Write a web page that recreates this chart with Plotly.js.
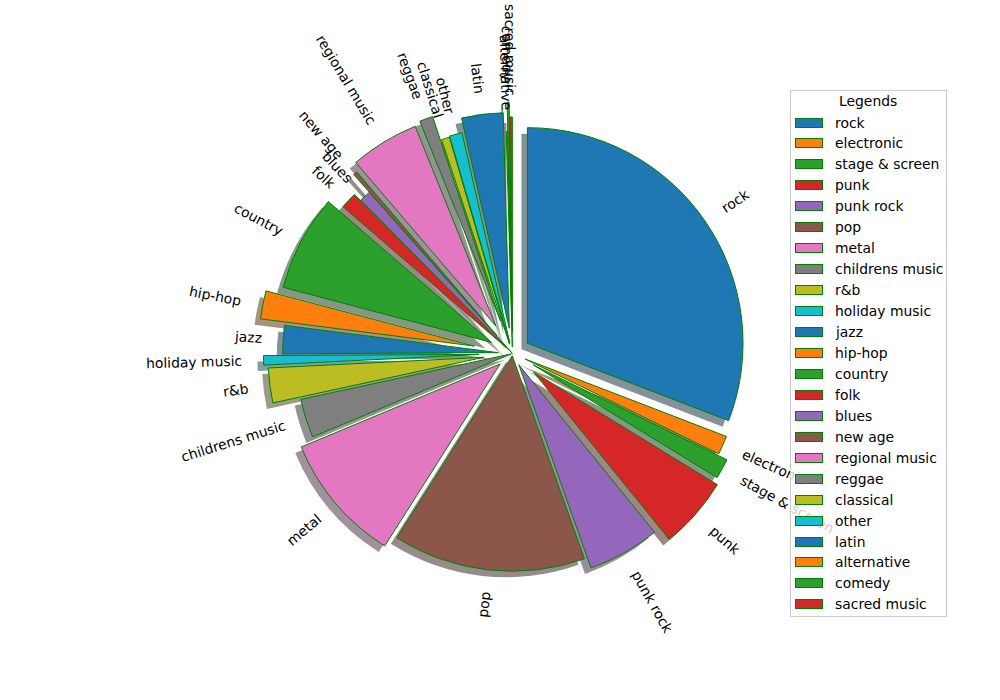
<!DOCTYPE html>
<html><head><meta charset="utf-8">
<script src="https://cdn.plot.ly/plotly-3.0.1.min.js"></script>
<style>html,body{margin:0;padding:0;background:#fff}</style>
</head><body><div id="chart" style="width:1000px;height:700px"></div>
<script>
// ---- data ----
const genres = ["rock","electronic","stage & screen","punk","punk rock","pop","metal","childrens music","r&b","holiday music","jazz","hip-hop","country","folk","blues","new age","regional music","reggae","classical","other","latin","alternative","comedy","sacred music"];
const shares = [30.8,1.4,1.5,5.4,5.4,14.4,9.7,2.9,2.6,0.7,2.1,2.1,7.2,1.25,0.85,0.3,5.15,1.0,0.6,0.95,3.1,0.1,0.15,0.2];
const legendTitle = "Legends";
// ---- styles ----
const explode = [0.084,0.064,0.11,0.13,0.06,0.01,0.075,0.005,0.135,0.155,0.066,0.18,0.11,0.04,0.0,0.11,0.148,0.16,0.045,0.05,0.118,0.03,0.166,0.097];
const tab10 = ["#1f77b4","#ff7f0e","#2ca02c","#d62728","#9467bd","#8c564b","#e377c2","#7f7f7f","#bcbd22","#17becf"];
const colors = genres.map((g,i)=>tab10[i%10]);
const edge = "#008000";

const W=1000,H=700,CX=512.5,CY=353.5,R=215.6,SH=6;
const FS=13.9, FONT='DejaVu Sans, sans-serif';
const maxPull=Math.max(...explode);
const half=R*(1+maxPull);
function dom(cx,cy){return {x:[(cx-half)/W,(cx+half)/W], y:[1-(cy+half)/H,1-(cy-half)/H]};}
function hex2rgb(h){return [parseInt(h.substr(1,2),16),parseInt(h.substr(3,2),16),parseInt(h.substr(5,2),16)];}
const shadowCols = colors.map(c=>{const [r,g,b]=hex2rgb(c);return `rgba(${Math.round(r*0.3)},${Math.round(g*0.3)},${Math.round(b*0.3)},0.5)`;});

const shadow = {type:'pie', labels:genres, values:shares, sort:false, direction:'clockwise', rotation:0,
  pull:explode, textinfo:'none', hoverinfo:'skip', domain:dom(CX-SH,CY+SH), showlegend:false,
  marker:{colors:shadowCols, line:{width:0}}};
const main = {type:'pie', labels:genres, values:shares, sort:false, direction:'clockwise', rotation:0,
  pull:explode, textinfo:'none', hoverinfo:'label+percent', domain:dom(CX,CY), showlegend:false,
  marker:{colors:colors, line:{width:1,color:edge}}};

// text measurement
const ctx=document.createElement('canvas').getContext('2d');
ctx.font=FS+'px "DejaVu Sans"';
const px2x=p=>p/W, py2y=p=>1-p/H;

const annotations=[];
const total=shares.reduce((a,b)=>a+b,0);
let cum=0;
genres.forEach((g,i)=>{
  const th=(cum+shares[i]/2)/total*2*Math.PI; cum+=shares[i];
  const ux=Math.sin(th), uy=-Math.cos(th);
  const d=(explode[i]+1.1)*R;
  const ax=CX+ux*d, ay=CY+uy*d;
  const w=ctx.measureText(g).width;
  const px=ax+ux*w/2, py=ay+uy*w/2;
  let ang = ux>0 ? Math.atan2(uy,ux) : Math.atan2(-uy,-ux);
  annotations.push({x:px2x(px),y:py2y(py),xref:'paper',yref:'paper',text:g,showarrow:false,
    xanchor:'center',yanchor:'middle',textangle:ang*180/Math.PI,font:{size:FS,family:FONT,color:'#000'},borderpad:0});
});

// legend (drawn as annotations so it overlays labels)
const L={x0:789.5,y0:90.5,x1:946.5,y1:617};
annotations.push({x:px2x((L.x0+L.x1)/2),y:py2y((L.y0+L.y1)/2),xref:'paper',yref:'paper',text:' ',showarrow:false,
  xanchor:'center',yanchor:'middle',width:L.x1-L.x0-2,height:L.y1-L.y0-2,bgcolor:'rgba(255,255,255,0.8)',
  bordercolor:'#cccccc',borderwidth:1,borderpad:0});
annotations.push({x:px2x(868),y:py2y(101),xref:'paper',yref:'paper',text:legendTitle,showarrow:false,
  xanchor:'center',yanchor:'middle',font:{size:FS,family:FONT,color:'#000'}});
genres.forEach((g,i)=>{
  const yc=122.5+i*20.95;
  annotations.push({x:px2x(809),y:py2y(yc),xref:'paper',yref:'paper',text:' ',showarrow:false,
    xanchor:'center',yanchor:'middle',width:26,height:8,bgcolor:colors[i],bordercolor:edge,borderwidth:1,borderpad:0,font:{size:4}});
  annotations.push({x:px2x(834),y:py2y(yc),xref:'paper',yref:'paper',text:g,showarrow:false,
    xanchor:'left',yanchor:'middle',font:{size:FS,family:FONT,color:'#000'},borderpad:0});
});

const layout={width:W,height:H,margin:{l:0,r:0,t:0,b:0},paper_bgcolor:'#fff',plot_bgcolor:'#fff',
  showlegend:false,annotations:annotations,font:{family:FONT}};
Plotly.newPlot('chart',[shadow,main],layout,{displayModeBar:false,staticPlot:true});
</script></body></html>
